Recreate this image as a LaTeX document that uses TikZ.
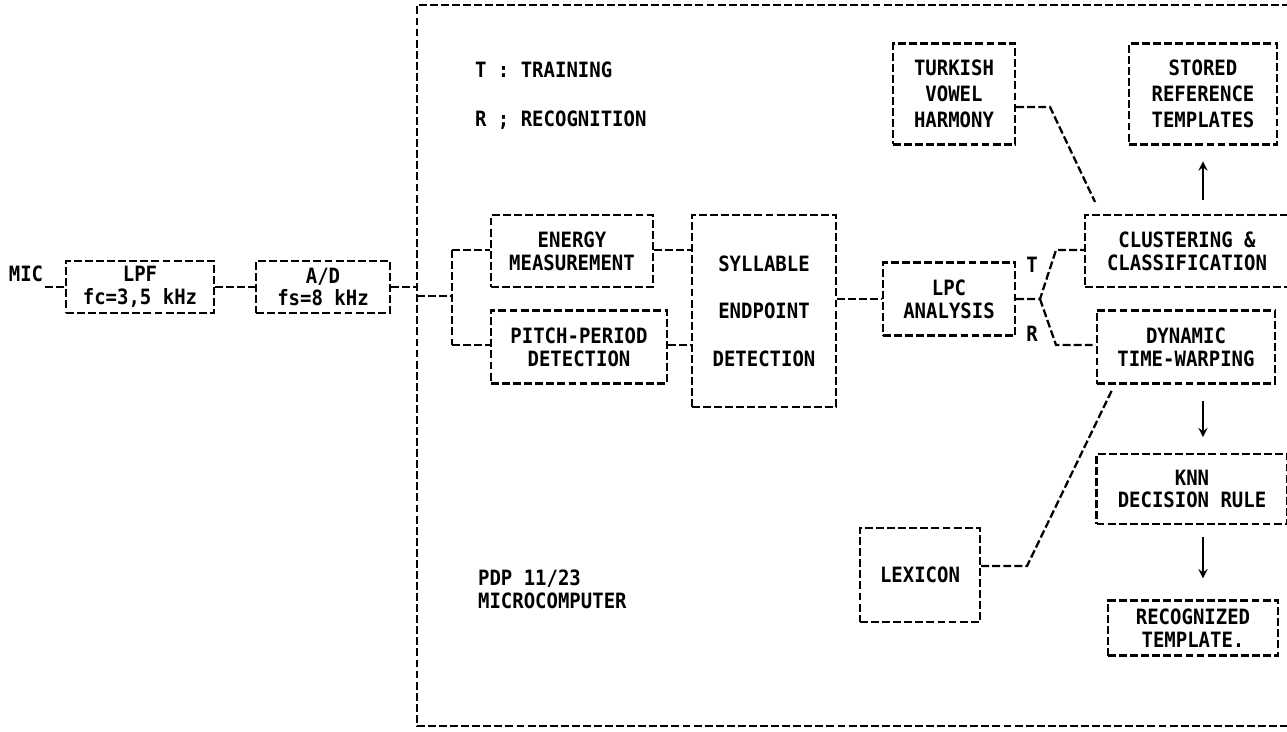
\documentclass[tikz,border=0pt]{standalone}
\usepackage{fontspec}
\setmonofont[FakeStretch=0.9]{DejaVu Sans Mono}

\begin{document}
\begin{tikzpicture}[
        x=0.02cm,y=-0.02cm,
        every node/.style={font=\ttfamily\bfseries\fontsize{12}{13}\selectfont,inner sep=1pt},
        blk/.style={draw,dash pattern=on 4.5pt off 1.8pt,line width=1.3pt,align=center,inner sep=0pt},
        link/.style={dash pattern=on 4.5pt off 1.8pt,line width=1.3pt},
        arr/.style={line width=1.3pt,->,>=stealth}
    ]
        \useasboundingbox (0,0) rectangle (1287,731);

        % outer frame
        \coordinate (ftl) at (417,5);
        \coordinate (fbl) at (417,726);
        \coordinate (ftr) at (1290,5);
        \coordinate (fbr) at (1290,726);
        \draw[link] (ftr) -- (ftl) -- (fbl) -- (fbr);

        \node (mic) at (26,274) {MIC};
        \node[blk,minimum width=2.96cm,minimum height=1.04cm] (lpf) at (140,287) {LPF\\fc=3,5 kHz};
        \node[blk,minimum width=2.68cm,minimum height=1.04cm] (ad) at (323,287) {A/D\\fs=8 kHz};

        \node[anchor=west] (ttrain) at (473,70) {T : TRAINING};
        \node[anchor=west] (trecog) at (473,120) {R ; RECOGNITION};
        \node[anchor=west,align=left] (pdp) at (476,589) {PDP 11/23\\MICROCOMPUTER};

        \node[blk,minimum width=3.24cm,minimum height=1.44cm] (energy) at (572,251) {ENERGY\\MEASUREMENT};
        \node[blk,minimum width=3.52cm,minimum height=1.46cm] (pitch) at (579,347) {PITCH-PERIOD\\DETECTION};
        \node[blk,minimum width=2.88cm,minimum height=3.84cm] (syll) at (764,311) {SYLLABLE\\[14pt]ENDPOINT\\[14pt]DETECTION};
        \node[blk,minimum width=2.64cm,minimum height=1.46cm] (lpc) at (949,299) {LPC\\ANALYSIS};
        \node[blk,minimum width=2.44cm,minimum height=2.02cm] (turk) at (954,94) {TURKISH\\[1.7pt]VOWEL\\[1.7pt]HARMONY};
        \node[blk,minimum width=2.96cm,minimum height=2.02cm] (stored) at (1203,94) {STORED\\[1.7pt]REFERENCE\\[1.7pt]TEMPLATES};
        \node[blk,minimum width=4.08cm,minimum height=1.44cm] (clus) at (1187,251) {CLUSTERING \&\\CLASSIFICATION};
        \node[blk,minimum width=3.56cm,minimum height=1.46cm] (dtw) at (1186,347) {DYNAMIC\\TIME-WARPING};
        \node[blk,minimum width=3.82cm,minimum height=1.4cm] (knn) at (1192,489) {KNN\\DECISION RULE};
        \node[blk,minimum width=3.4cm,minimum height=1.1cm] (rec) at (1193,628) {RECOGNIZED\\TEMPLATE.};
        \node[blk,minimum width=2.4cm,minimum height=1.88cm] (lex) at (920,575) {LEXICON};
        \node (tlab) at (1032,265) {T};
        \node (rlab) at (1032,334) {R};

        \coordinate (brt) at (452,250);
        \coordinate (brm) at (452,296);
        \coordinate (brb) at (452,345);
        \coordinate (fk) at (1040,299);
        \coordinate (tup) at (1056,250);
        \coordinate (rdn) at (1056,345);
        \coordinate (tk) at (1050,107);
        \coordinate (tkend) at (1095,202);
        \coordinate (lx) at (1027,566);
        \coordinate (lxend) at (1112,390);
        \coordinate (col) at (1203,0);

        \draw[link] (mic.east |- lpf.west) -- (lpf.west);
        \draw[link] (lpf.east) -- (ad.west);
        \draw[link] (ad.east) -- (ad.east -| ftl);
        \draw[link] (ftl |- brm) -- (brm);
        \draw[link] (brt) -- (brb);
        \draw[link] (brt) -- (energy.west |- brt);
        \draw[link] (brb) -- (pitch.west |- brb);
        \draw[link] (energy.east |- brt) -- (syll.west |- brt);
        \draw[link] (pitch.east |- brb) -- (syll.west |- brb);
        \draw[link] (syll.east |- lpc.west) -- (lpc.west);
        \draw[link] (lpc.east |- fk) -- (fk) -- (tup) -- (clus.west |- tup);
        \draw[link] (fk) -- (rdn) -- (dtw.west |- rdn);
        \draw[link] (turk.east |- tk) -- (tk) -- (tkend);
        \draw[link] (lex.east |- lx) -- (lx) -- (lxend);
        \draw[arr,shorten <=8pt,shorten >=9pt] (clus.north -| col) -- (stored.south -| col);
        \draw[arr,shorten <=9.5pt,shorten >=9pt] (dtw.south -| col) -- (knn.north -| col);
        \draw[arr,shorten <=7pt,shorten >=12pt] (knn.south -| col) -- (rec.north -| col);
    \end{tikzpicture}
\end{document}
